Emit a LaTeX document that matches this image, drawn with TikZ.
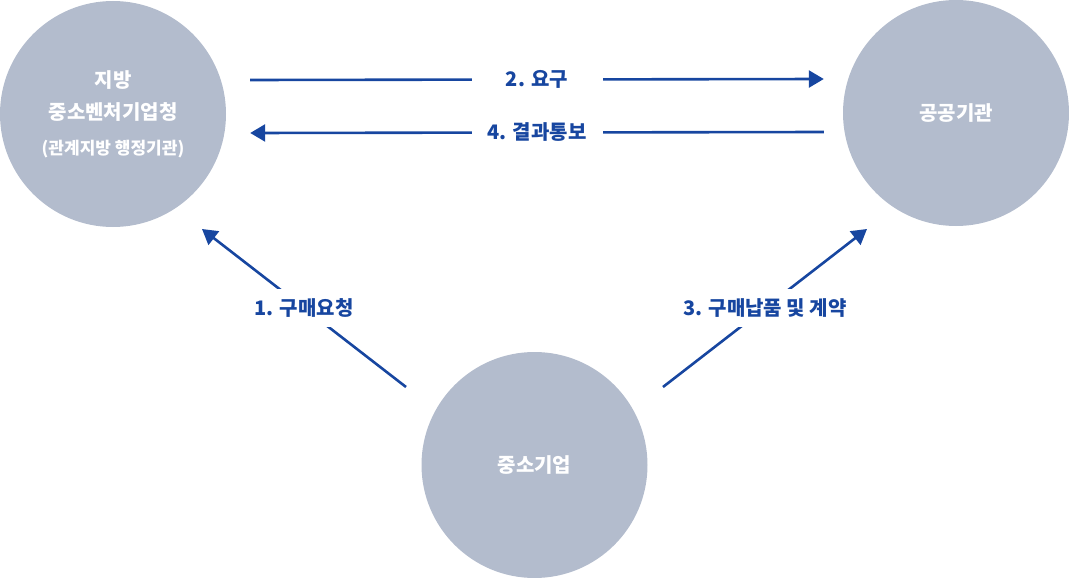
\documentclass[tikz,border=0pt]{standalone}
\usepackage{fontspec}
\setmainfont{Noto Sans CJK KR}
\usetikzlibrary{arrows.meta,positioning}

\definecolor{orgfill}{HTML}{B3BCCD}
\definecolor{flowblue}{HTML}{1746A0}

\begin{document}
\begin{tikzpicture}[
  x=1pt, y=-1pt,
  org/.style={circle, fill=orgfill, minimum size=226pt, inner sep=0pt, text=white, align=center,
    font=\bfseries\fontsize{20}{32}\selectfont},
  flow/.style={-{Triangle[length=15pt, width=17pt]}, line width=2.6pt, draw=flowblue},
  lbl/.style={fill=white, text=flowblue, inner sep=0pt, font=\bfseries\fontsize{20}{24}\selectfont}
]
\useasboundingbox (0,0) rectangle (1069,578);

\node[org] (local) at (113,114)
  {지방\\중소벤처기업청\\[3pt]{\fontsize{17}{20}\selectfont(관계지방 행정기관)}};
\node[org] (public) at (956,113) {공공기관};
\node[org] (sme) at (534.5,465) {중소기업};

\draw[flow] ([xshift=24pt, yshift=34pt]local.east)
  -- node[lbl, minimum width=131pt] {2. 요구} ([xshift=-19pt, yshift=34pt]public.west);
\draw[flow] ([xshift=-19pt, yshift=-19pt]public.west)
  -- node[lbl, minimum width=131pt] {4. 결과통보} ([xshift=24pt, yshift=-19pt]local.east);

% diagonal connectors
\coordinate (reqfrom) at (406,387);
\coordinate (reqto) at (202,229);
\coordinate (delfrom) at (663,387);
\coordinate (delto) at (867,229);
\draw[flow] (reqfrom) -- node[lbl, minimum height=38pt] {1. 구매요청} (reqto);
\draw[flow] (delfrom) -- node[lbl, minimum height=38pt] {3. 구매납품 및 계약} (delto);

\end{tikzpicture}
\end{document}
